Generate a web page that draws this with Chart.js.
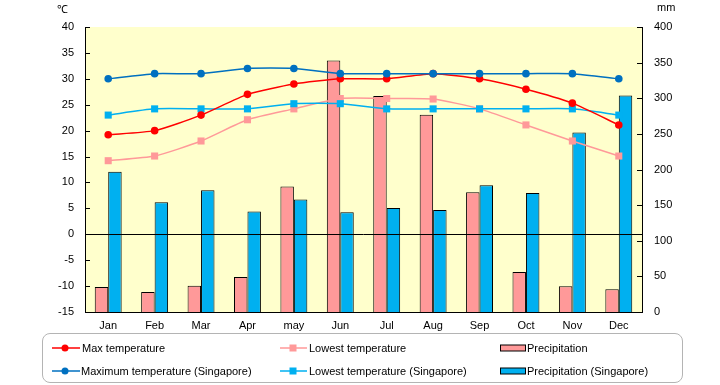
<!DOCTYPE html>
<html><head><meta charset="utf-8">
<script src="https://cdn.jsdelivr.net/npm/chart.js@4.4.0/dist/chart.umd.min.js"></script>
<style>
html,body{margin:0;padding:0;background:#fff;}
#wrap{position:relative;width:720px;height:385px;overflow:hidden;}
#c{position:absolute;left:0;top:0;}
.lg{position:absolute;left:42px;top:333px;width:641px;height:50px;border:1px solid #b4b4b4;border-radius:8px;box-sizing:border-box;}
.it{position:absolute;font:11px "Liberation Sans",Arial,sans-serif;color:#000;white-space:nowrap;line-height:12px;}
.mk{position:absolute;}
.unit{position:absolute;font:11px "Liberation Sans",Arial,sans-serif;color:#000;}
</style>
</head><body>
<div id="wrap">
<canvas id="c" width="720" height="385"></canvas>
<div class="unit" style="left:57px;top:1px;">℃</div>
<div class="unit" style="left:657px;top:1px;">mm</div>
<div class="lg"></div>
<svg class="mk" style="left:52px;top:343px" width="30" height="10"><line x1="0" y1="5" x2="28" y2="5" stroke="#FF0000" stroke-width="1.5"/><circle cx="13" cy="5" r="3.5" fill="#FF0000"/></svg>
<div class="it" style="left:82px;top:342px;">Max temperature</div>
<svg class="mk" style="left:280px;top:343px" width="30" height="10"><line x1="0" y1="5" x2="27" y2="5" stroke="#FF9999" stroke-width="1.5"/><rect x="9.5" y="1.5" width="7" height="7" fill="#FF9999"/></svg>
<div class="it" style="left:309px;top:342px;">Lowest temperature</div>
<svg class="mk" style="left:500px;top:343px" width="28" height="10"><rect x="0.5" y="2" width="25" height="6" fill="#FF9999" stroke="#000" stroke-width="1"/></svg>
<div class="it" style="left:527px;top:342px;">Precipitation</div>
<svg class="mk" style="left:52px;top:366px" width="30" height="10"><line x1="0" y1="5" x2="28" y2="5" stroke="#0070C0" stroke-width="1.5"/><circle cx="13" cy="5" r="3.5" fill="#0070C0"/></svg>
<div class="it" style="left:81px;top:365px;">Maximum temperature (Singapore)</div>
<svg class="mk" style="left:280px;top:366px" width="30" height="10"><line x1="0" y1="5" x2="27" y2="5" stroke="#00B0F0" stroke-width="1.5"/><rect x="9.5" y="1.5" width="7" height="7" fill="#00B0F0"/></svg>
<div class="it" style="left:309px;top:365px;">Lowest temperature (Singapore)</div>
<svg class="mk" style="left:500px;top:366px" width="28" height="10"><rect x="0.5" y="2" width="25" height="6" fill="#00B0F0" stroke="#000" stroke-width="1"/></svg>
<div class="it" style="left:527px;top:365px;">Precipitation (Singapore)</div>
</div>
<script>
const months = ['Jan','Feb','Mar','Apr','may','Jun','Jul','Aug','Sep','Oct','Nov','Dec'];
const maxTemp = [19.2,20,23,27,29,30,30,31,30,28,25.3,21.1];
const minTemp = [14.2,15.1,18,22.1,24.2,26.2,26.2,26.1,24.2,21.1,18,15.1];
const precip = [35,28,37,49,176,353,303,277,168,56,36,32];
const sgMaxTemp = [30,31,31,32,32,31,31,31,31,31,31,30];
const sgMinTemp = [23,24.2,24.2,24.2,25.2,25.2,24.2,24.2,24.2,24.2,24.2,23];
const sgPrecip = [197,154,171,141,158,140,146,143,178,167,252,304];
const tempRange = [-15, 40, 5];
const precipRange = [0, 400, 50];

const FONT = {family:'"Liberation Sans", Arial, sans-serif', size:11};

const decor = {
  id:'decor',
  beforeDraw(chart){
    const a = chart.chartArea, ctx = chart.ctx;
    ctx.save();
    ctx.fillStyle = '#FFFFCC';
    ctx.fillRect(a.left, a.top, a.right - a.left, a.bottom - a.top);
    ctx.restore();
  },
  afterDatasetsDraw(chart){
    const a = chart.chartArea, ctx = chart.ctx;
    const y = chart.scales.y, y1 = chart.scales.y1;
    ctx.save();
    ctx.strokeStyle = '#000';
    ctx.lineWidth = 1;
    ctx.beginPath();
    y.ticks.forEach(t => {
      const p = Math.round(y.getPixelForValue(t.value)) + 0.5;
      ctx.moveTo(a.left, p); ctx.lineTo(a.left + 5, p);
    });
    y1.ticks.forEach(t => {
      const p = Math.round(y1.getPixelForValue(t.value)) + 0.5;
      ctx.moveTo(a.right - 5, p); ctx.lineTo(a.right, p);
    });
    const z = Math.round(y.getPixelForValue(0)) + 0.5;
    ctx.moveTo(a.left, z); ctx.lineTo(a.right, z);
    ctx.stroke();
    ctx.restore();
  }
};

const lineDs = (label, data, color, style, r) => ({
  type:'line', label, data, yAxisID:'y', order:0,
  borderColor:color, backgroundColor:color, borderWidth:1.5,
  pointStyle:style, pointRadius:r, pointHoverRadius:r, pointBorderWidth:0,
  tension:0.2, fill:false
});
const barDs = (label, data, color) => ({
  type:'bar', label, data, yAxisID:'y1', order:1,
  backgroundColor:color, borderColor:'#000', borderWidth:1,
  barPercentage:1, categoryPercentage:0.58
});

new Chart(document.getElementById('c'), {
  data:{
    labels: months,
    datasets:[
      lineDs('Maximum temperature (Singapore)', sgMaxTemp, '#0070C0', 'circle', 3.8),
      lineDs('Max temperature', maxTemp, '#FF0000', 'circle', 3.8),
      lineDs('Lowest temperature (Singapore)', sgMinTemp, '#00B0F0', 'rect', 5),
      lineDs('Lowest temperature', minTemp, '#FF9999', 'rect', 5),
      barDs('Precipitation', precip, '#FF9999'),
      barDs('Precipitation (Singapore)', sgPrecip, '#00B0F0')
    ]
  },
  options:{
    responsive:false, animation:false,
    layout:{padding:{top:27, bottom:43, left:0, right:0}},
    plugins:{legend:{display:false}, tooltip:{enabled:false}},
    scales:{
      x:{
        grid:{display:false, drawTicks:false},
        border:{display:true, color:'#000', width:1},
        ticks:{font:FONT, color:'#000', padding:7, maxRotation:0},
        afterFit(s){ s.height = 30; }
      },
      y:{
        position:'left', min:tempRange[0], max:tempRange[1],
        grid:{display:false, drawTicks:false},
        border:{display:true, color:'#000', width:1},
        ticks:{stepSize:tempRange[2], font:FONT, color:'#000', padding:11},
        afterFit(s){ s.width = 85; }
      },
      y1:{
        position:'right', min:precipRange[0], max:precipRange[1],
        grid:{display:false, drawTicks:false},
        border:{display:true, color:'#000', width:1},
        ticks:{stepSize:precipRange[2], font:FONT, color:'#000', padding:12},
        afterFit(s){ s.width = 78; }
      }
    }
  },
  plugins:[decor]
});
</script>
</body></html>
